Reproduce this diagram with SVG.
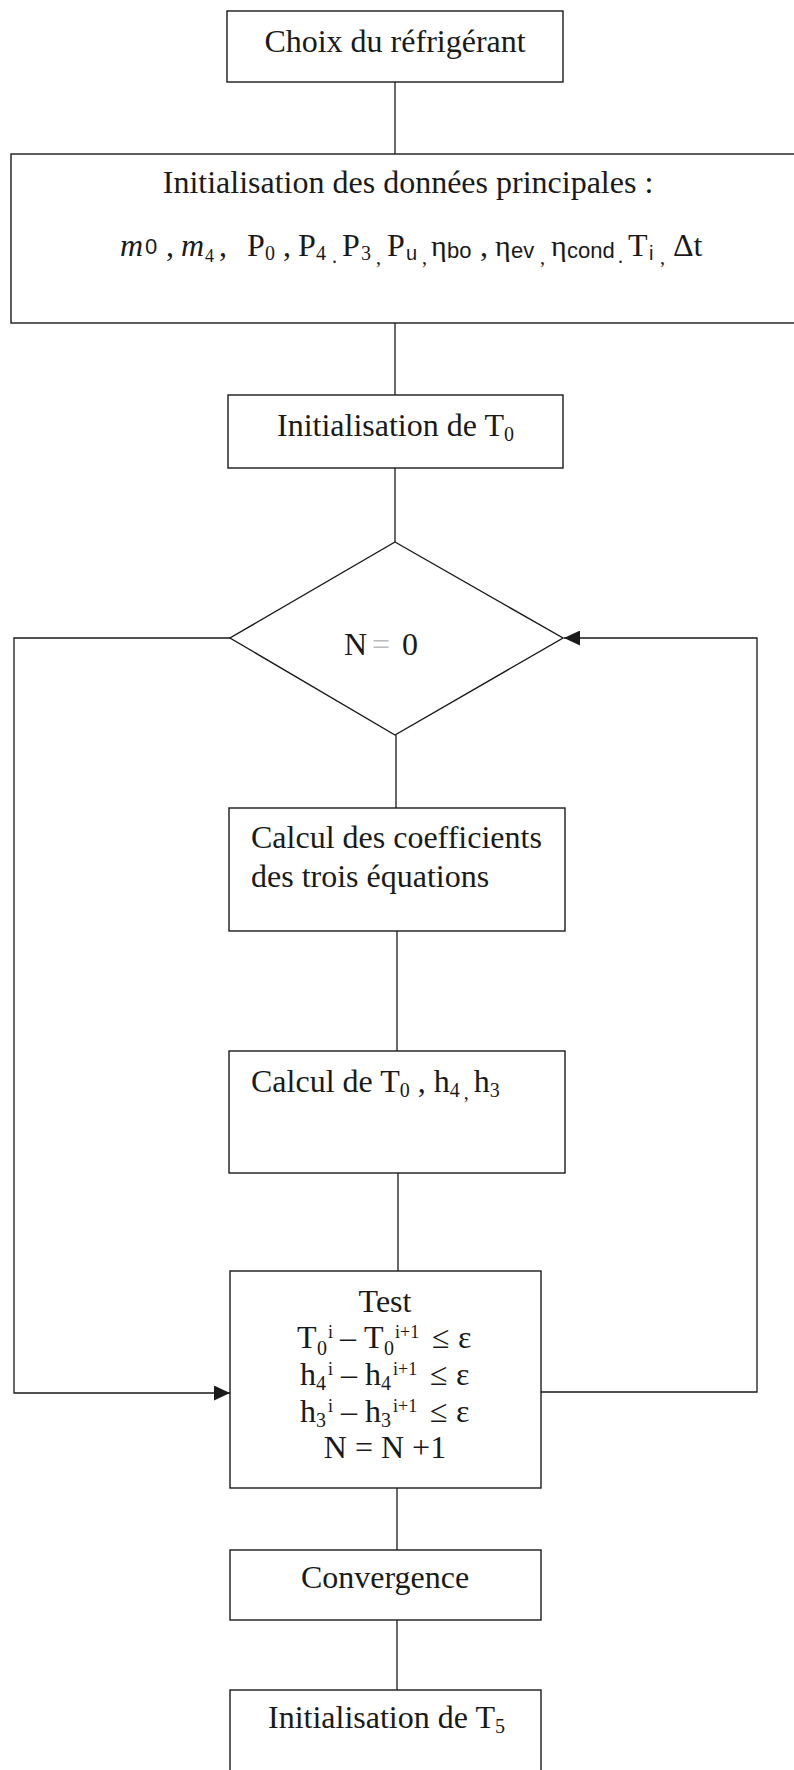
<svg xmlns="http://www.w3.org/2000/svg" width="794" height="1770" viewBox="0 0 794 1770">
<style>
.box{fill:#fff;stroke:#1a1a1a;stroke-width:1.4}
.ln{fill:none;stroke:#1a1a1a;stroke-width:1.3}
.t{font-family:"Liberation Serif","Times New Roman",serif;font-size:32px;fill:#1a1a1a}
.s{font-family:"Liberation Sans",Arial,sans-serif}
.sm{font-size:20px}
.ss{font-size:18px}
</style>
<defs>
<marker id="arr" viewBox="0 0 16 15" refX="16" refY="7.5" markerWidth="16" markerHeight="15" markerUnits="userSpaceOnUse" orient="auto">
<path d="M0,0 L16,7.5 L0,15 Z" fill="#1a1a1a"/>
</marker>
</defs>
<rect width="794" height="1770" fill="#fff"/>
<g id="connectors">
<path class="ln" d="M395,82 V154"/>
<path class="ln" d="M395,323 V395"/>
<path class="ln" d="M395,468 V542"/>
<path class="ln" d="M396,735 V808"/>
<path class="ln" d="M397,931 V1051"/>
<path class="ln" d="M398,1173 V1271"/>
<path class="ln" d="M397,1488 V1550"/>
<path class="ln" d="M397,1620 V1690"/>
<path class="ln" d="M230,638 H14 V1393 H230" marker-end="url(#arr)"/>
<path class="ln" d="M541,1392 H757 V638 H564" marker-end="url(#arr)"/>
</g>
<g id="n1">
<rect class="box" x="227" y="11" width="336" height="71"/>
<text class="t" x="395" y="52" text-anchor="middle">Choix du réfrigérant</text>
</g>
<g id="n2">
<rect class="box" x="11" y="154" width="790" height="169"/>
<text class="t" x="408" y="193" text-anchor="middle">Initialisation des données principales :</text>
<text class="t" y="256"><tspan x="120" font-style="italic">m</tspan><tspan x="145" y="254" class="s" font-size="22">0</tspan><tspan x="166" y="256">,</tspan><tspan x="181" font-style="italic">m</tspan><tspan x="205" y="262" class="ss">4</tspan><tspan x="219" y="256">,</tspan><tspan x="247">P</tspan><tspan x="265" y="260" class="sm">0</tspan><tspan x="283" y="256">,</tspan><tspan x="298">P</tspan><tspan x="316" y="260" class="sm">4</tspan><tspan x="332" y="263" class="sm">.</tspan><tspan x="342" y="256">P</tspan><tspan x="361" y="260" class="sm">3</tspan><tspan x="376" y="264" class="sm">,</tspan><tspan x="387" y="256">P</tspan><tspan x="406" y="260" class="s sm">u</tspan><tspan x="422" y="264" class="sm">,</tspan><tspan x="431" y="256" font-size="30">η</tspan><tspan x="447" y="258" class="s" font-size="22">bo</tspan><tspan x="480" y="256">,</tspan><tspan x="495" font-size="30">η</tspan><tspan x="511" y="258" class="s" font-size="22">ev</tspan><tspan x="540" y="264" class="sm">,</tspan><tspan x="551" y="256" font-size="30">η</tspan><tspan x="567" y="258" class="s" font-size="22">cond</tspan><tspan x="618" y="263" class="sm">.</tspan><tspan x="628" y="256">T</tspan><tspan x="649" y="260" class="s sm">i</tspan><tspan x="660" y="264" class="sm">,</tspan><tspan x="673" y="256">Δt</tspan></text>
</g>
<g id="n3">
<rect class="box" x="228" y="395" width="335" height="73"/>
<text class="t" x="277" y="436">Initialisation de T<tspan class="sm" dy="5">0</tspan></text>
</g>
<g id="n4">
<polygon class="box" points="395,542 563,638 395,735 230,638"/>
<text class="t" y="655"><tspan x="344">N</tspan><tspan x="372" fill="#bbb">=</tspan><tspan x="402">0</tspan></text>
</g>
<g id="n5">
<rect class="box" x="229" y="808" width="336" height="123"/>
<text class="t" x="251" y="848">Calcul des coefficients</text>
<text class="t" x="251" y="887">des trois équations</text>
</g>
<g id="n6">
<rect class="box" x="229" y="1051" width="336" height="122"/>
<text class="t" x="251" y="1092">Calcul de T<tspan class="sm" dy="5">0</tspan><tspan dy="-5"> , h</tspan><tspan class="sm" dy="5">4</tspan><tspan class="sm" dx="4" dy="2">,</tspan><tspan dx="5" dy="-7">h</tspan><tspan class="sm" dy="5">3</tspan></text>
</g>
<g id="n7">
<rect class="box" x="230" y="1271" width="311" height="217"/>
<text class="t" x="385" y="1312" text-anchor="middle">Test</text>
<text class="t" y="1348"><tspan x="297">T</tspan><tspan x="317" y="1355" class="sm">0</tspan><tspan x="328" y="1338" class="ss">i</tspan><tspan x="340" y="1348">–</tspan><tspan x="364">T</tspan><tspan x="384" y="1355" class="sm">0</tspan><tspan x="395" y="1338" class="ss">i+1</tspan><tspan x="432" y="1348">≤</tspan><tspan x="458">ε</tspan></text>
<text class="t" y="1385"><tspan x="300">h</tspan><tspan x="316" y="1390" class="sm">4</tspan><tspan x="328" y="1375" class="ss">i</tspan><tspan x="341" y="1385">–</tspan><tspan x="365">h</tspan><tspan x="381" y="1390" class="sm">4</tspan><tspan x="393" y="1375" class="ss">i+1</tspan><tspan x="430" y="1385">≤</tspan><tspan x="456">ε</tspan></text>
<text class="t" y="1422"><tspan x="300">h</tspan><tspan x="316" y="1427" class="sm">3</tspan><tspan x="328" y="1412" class="ss">i</tspan><tspan x="341" y="1422">–</tspan><tspan x="365">h</tspan><tspan x="381" y="1427" class="sm">3</tspan><tspan x="393" y="1412" class="ss">i+1</tspan><tspan x="430" y="1422">≤</tspan><tspan x="456">ε</tspan></text>
<text class="t" x="385" y="1458" text-anchor="middle">N = N +1</text>
</g>
<g id="n8">
<rect class="box" x="230" y="1550" width="311" height="70"/>
<text class="t" x="385" y="1588" text-anchor="middle">Convergence</text>
</g>
<g id="n9">
<rect class="box" x="230" y="1690" width="311" height="100"/>
<text class="t" x="268" y="1728">Initialisation de T<tspan class="sm" dy="5">5</tspan></text>
</g>
</svg>
